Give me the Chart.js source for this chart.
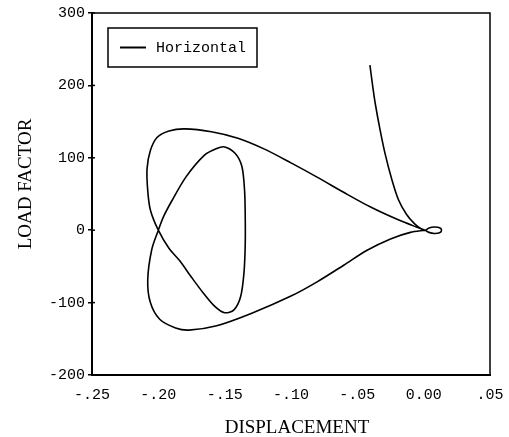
<!DOCTYPE html>
<html>
<head>
<meta charset="utf-8">
<script src="https://cdn.jsdelivr.net/npm/chart.js@4/dist/chart.umd.min.js"></script>
<style>
    html, body { margin: 0; padding: 0; background: #fff; }
    #wrap { position: relative; width: 509px; height: 437px; }
</style>
</head>
<body>
<div id="wrap"><canvas id="chart"></canvas></div>
<script>
// displacement / load factor path (in drawing order)
const dispValues = [
    -0.0405, -0.0385, -0.0365, -0.033, -0.029, -0.024, -0.019, -0.013, -0.007, -0.002, 0.001,
    0.004, 0.008, 0.012, 0.0135, 0.012, 0.008, 0.004, 0.001,
    -0.005, -0.02, -0.04, -0.06, -0.08, -0.10, -0.12, -0.14, -0.16, -0.18,
    -0.192, -0.201, -0.206, -0.2085, -0.208, -0.206, -0.200,
    -0.192, -0.184, -0.175, -0.166, -0.157, -0.150, -0.143, -0.138, -0.1355, -0.1345,
    -0.1345, -0.135, -0.137, -0.142, -0.150, -0.156, -0.165, -0.179, -0.190, -0.196, -0.200,
    -0.205, -0.208, -0.206, -0.199, -0.187, -0.177, -0.156, -0.13, -0.10, -0.08, -0.06,
    -0.043, -0.025, -0.01, 0.001
];
const loadValues = [
    228, 200, 175, 140, 105, 70, 42, 22, 9, 2, 0,
    3, 4.5, 3.5, 0, -3.5, -4.5, -3, 0,
    4, 15, 32, 52, 73, 93, 112, 127, 136, 140,
    137, 128, 110, 85, 55, 28, 0,
    -25, -42, -65, -87, -106, -114, -110, -92, -60, -20,
    20, 55, 88, 106, 115, 113, 104, 74, 40, 19, 0,
    -27, -69, -100, -123, -135, -138, -132, -115, -91, -71, -48,
    -28, -12, -3, 0
];
const seriesName = 'Horizontal';

const xTickValues = [-0.25, -0.20, -0.15, -0.10, -0.05, 0.00, 0.05];
const xTickLabels = ['-.25', '-.20', '-.15', '-.10', '-.05', '0.00', '.05'];
const yTickValues = [-200, -100, 0, 100, 200, 300];
const yTickLabels = ['-200', '-100', '0', '100', '200', '300'];
const xTitle = 'DISPLACEMENT';
const yTitle = 'LOAD FACTOR';

const points = dispValues.map((x, i) => ({ x: x, y: loadValues[i] }));

const tickFont = { family: '"Liberation Mono", "DejaVu Sans Mono", monospace', size: 15 };
const titleFontCss = '19px "Liberation Serif", "DejaVu Serif", serif';

// frame (top + right), small inner y ticks, axis titles and the boxed legend
const framePlugin = {
    id: 'frame',
    afterDraw(chart) {
        const { ctx, chartArea: a, scales } = chart;
        ctx.save();
        ctx.strokeStyle = '#000';
        ctx.fillStyle = '#000';
        ctx.lineWidth = 1.5;
        ctx.beginPath();
        ctx.moveTo(a.left, a.top);
        ctx.lineTo(a.right, a.top);
        ctx.lineTo(a.right, a.bottom);
        ctx.stroke();

        yTickValues.forEach(v => {
            const y = scales.y.getPixelForValue(v);
            ctx.beginPath();
            ctx.moveTo(a.left, y);
            ctx.lineTo(a.left + 3, y);
            ctx.stroke();
        });

        // axis titles
        ctx.font = titleFontCss;
        ctx.textAlign = 'center';
        ctx.textBaseline = 'middle';
        ctx.fillText(xTitle, 297, 428);
        ctx.save();
        ctx.translate(26, 184);
        ctx.rotate(-Math.PI / 2);
        ctx.fillText(yTitle, 0, 0);
        ctx.restore();

        // legend box
        const bx = 108, by = 28, bw = 149, bh = 39;
        ctx.lineWidth = 1.5;
        ctx.strokeRect(bx, by, bw, bh);
        ctx.lineWidth = 2;
        ctx.beginPath();
        ctx.moveTo(bx + 12, by + bh / 2);
        ctx.lineTo(bx + 38, by + bh / 2);
        ctx.stroke();
        ctx.font = '15px "Liberation Mono", "DejaVu Sans Mono", monospace';
        ctx.textAlign = 'left';
        ctx.fillText(chart.data.datasets[0].label, bx + 48, by + bh / 2 + 1);
        ctx.restore();
    }
};

new Chart(document.getElementById('chart'), {
    type: 'scatter',
    data: {
        datasets: [{
            label: seriesName,
            data: points,
            showLine: true,
            borderColor: '#000',
            borderWidth: 1.6,
            pointRadius: 0,
            tension: 0.3,
            fill: false
        }]
    },
    options: {
        responsive: true,
        maintainAspectRatio: false,
        animation: false,
        layout: { padding: { top: 13, right: 19, left: 0, bottom: 0 } },
        plugins: {
            legend: { display: false },
            tooltip: { enabled: false }
        },
        scales: {
            x: {
                type: 'linear',
                min: -0.25,
                max: 0.05,
                afterBuildTicks: scale => { scale.ticks = xTickValues.map(v => ({ value: v })); },
                afterFit: scale => {
                    scale.height = 62;
                    scale.paddingLeft = 0;
                    scale.paddingRight = 0;
                },
                grid: { display: false, drawTicks: false },
                border: { display: true, color: '#000', width: 2 },
                ticks: {
                    color: '#000',
                    font: tickFont,
                    padding: 11,
                    maxRotation: 0,
                    autoSkip: false,
                    callback: (v, i) => xTickLabels[i]
                }
            },
            y: {
                type: 'linear',
                min: -200,
                max: 300,
                afterBuildTicks: scale => { scale.ticks = yTickValues.map(v => ({ value: v })); },
                afterFit: scale => { scale.width = 92; },
                grid: { drawOnChartArea: false, drawTicks: true, tickLength: 4, color: '#000', lineWidth: 1.5 },
                border: { display: true, color: '#000', width: 2 },
                ticks: {
                    color: '#000',
                    font: tickFont,
                    padding: 3,
                    autoSkip: false,
                    callback: (v, i) => yTickLabels[i]
                }
            }
        }
    },
    plugins: [framePlugin]
});
</script>
</body>
</html>
